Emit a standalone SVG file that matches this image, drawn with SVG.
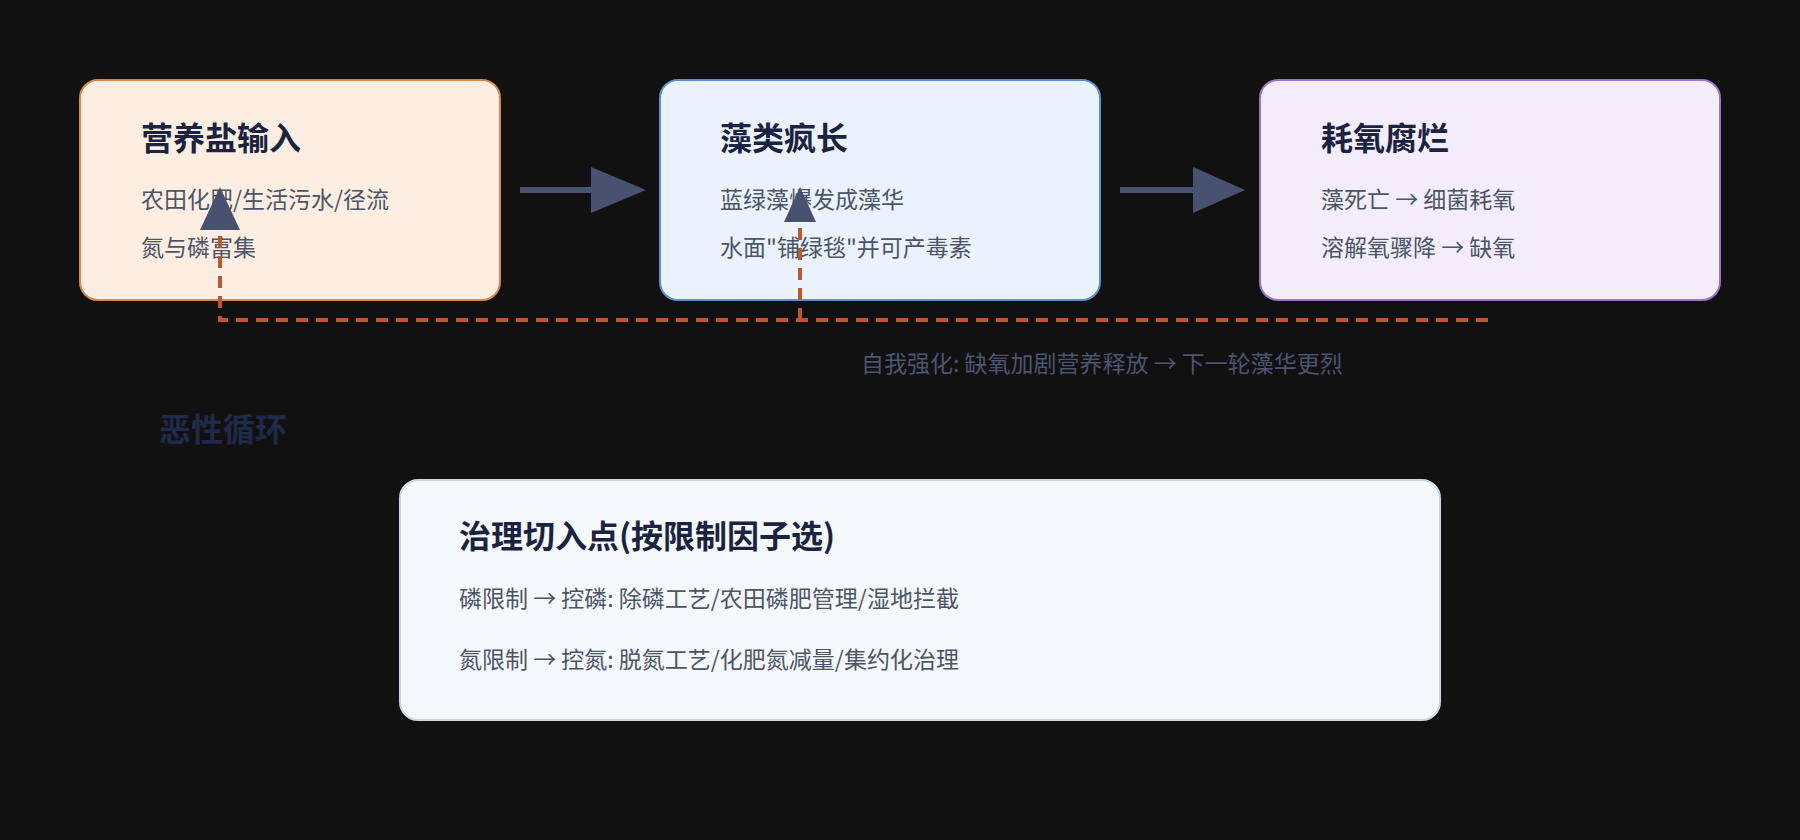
<svg xmlns="http://www.w3.org/2000/svg" width="1800" height="840" viewBox="0 0 1800 840">
<style>
.t{font-family:"Noto Sans CJK SC","Noto Sans",sans-serif;font-weight:700;font-size:32px;fill:#1a2340}
.b{font-family:"Noto Sans CJK SC","Noto Sans",sans-serif;font-size:23px;fill:#4a5568}
.fb{stroke:#475270;stroke-width:6;fill:none}
.ah{fill:#475270}
.dl{stroke:#c0562e;stroke-width:4;stroke-dasharray:12 8;fill:none}
</style>
<rect width="1800" height="840" fill="#111111"/>
<g id="n1"><rect x="80" y="80" width="420" height="220" rx="18" fill="#fdeee1" stroke="#d9884a" stroke-width="2"/>
<text class="t" x="141" y="150">营养盐输入</text><text class="b" x="141" y="208">农田化肥/生活污水/径流</text><text class="b" x="141" y="256">氮与磷富集</text></g>
<g id="n2"><rect x="660" y="80" width="440" height="220" rx="18" fill="#eaf3fd" stroke="#5b8fd0" stroke-width="2"/>
<text class="t" x="720" y="150">藻类疯长</text><text class="b" x="720" y="208">蓝绿藻爆发成藻华</text><text class="b" x="720" y="256">水面"铺绿毯"并可产毒素</text></g>
<g id="n3"><rect x="1260" y="80" width="460" height="220" rx="18" fill="#f3ecfb" stroke="#9b72cc" stroke-width="2"/>
<text class="t" x="1321" y="150">耗氧腐烂</text><text class="b" x="1321" y="208">藻死亡 → 细菌耗氧</text><text class="b" x="1321" y="256">溶解氧骤降 → 缺氧</text></g>
<g id="n4"><rect x="400" y="480" width="1040" height="240" rx="18" fill="#f5f8fc" stroke="#cbd5e1" stroke-width="2"/>
<text class="t" x="459" y="548">治理切入点(按限制因子选)</text><text class="b" x="459" y="607">磷限制 → 控磷: 除磷工艺/农田磷肥管理/湿地拦截</text><text class="b" x="459" y="668">氮限制 → 控氮: 脱氮工艺/化肥氮减量/集约化治理</text></g>
<g id="connectors">
<line class="fb" x1="520" y1="190" x2="595" y2="190"/><polygon class="ah" points="591,167 646,190 591,213"/>
<line class="fb" x1="1120" y1="190" x2="1195" y2="190"/><polygon class="ah" points="1193,167 1245,190 1193,213"/>
<path class="dl" d="M1488,320 H220 V232"/>
<polygon class="ah" points="200,230 220,187 240,230"/>
<path class="dl" d="M800,320 V222"/>
<polygon class="ah" points="784,222 800,187 816,222"/>
</g>
<text x="861" y="372" style="font-family:'Noto Sans CJK SC',sans-serif;font-size:23px;fill:#4a5570">自我强化: 缺氧加剧营养释放 → 下一轮藻华更烈</text>
<text x="159" y="441" style="font-family:'Noto Sans CJK SC',sans-serif;font-size:32px;font-weight:700;fill:#1e2a4a">恶性循环</text>
</svg>
